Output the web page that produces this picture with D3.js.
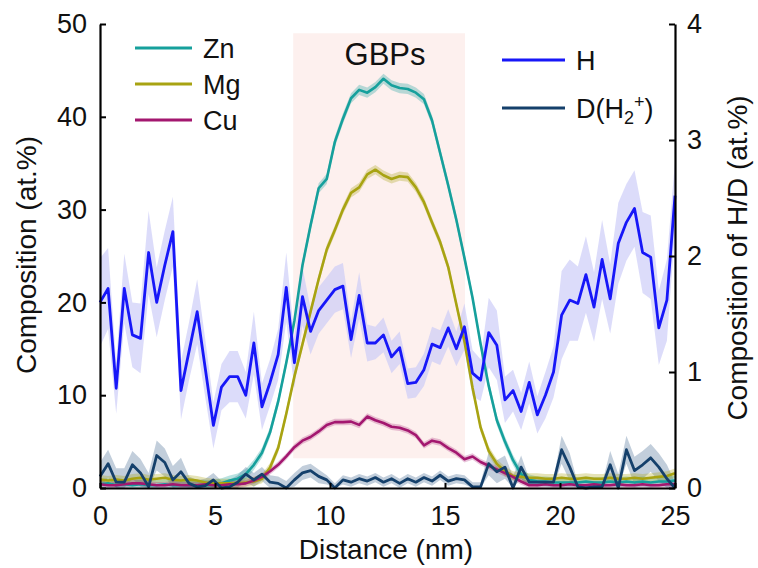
<!DOCTYPE html>
<html>
<head>
<meta charset="utf-8">
<script src="https://cdn.jsdelivr.net/npm/d3@7/dist/d3.min.js"></script>
<style>
  html, body { margin: 0; padding: 0; background: #fff; }
  svg text { font-family: "Liberation Sans", Arial, Helvetica, sans-serif; fill: #111; }
</style>
</head>
<body>
<svg id="chart" width="758" height="568"></svg>
<script>
// ---------- DATA ----------
const distance = [0,0.352,0.704,1.056,1.408,1.761,2.113,2.465,2.817,3.169,3.521,3.873,4.225,4.577,4.930,5.282,5.634,5.986,6.338,6.690,7.042,7.394,7.746,8.099,8.451,8.803,9.155,9.507,9.859,10.211,10.563,10.915,11.268,11.620,11.972,12.324,12.676,13.028,13.380,13.732,14.085,14.437,14.789,15.141,15.493,15.845,16.197,16.549,16.901,17.254,17.606,17.958,18.310,18.662,19.014,19.366,19.718,20.070,20.423,20.775,21.127,21.479,21.831,22.183,22.535,22.887,23.239,23.592,23.944,24.296,24.648,25.000];

// left axis (at.%)
const zn = [0.4,0.5,0.3,0.4,0.3,0.4,0.3,0.3,0.4,0.3,0.3,0.3,0.3,0.3,0.3,0.5,0.8,1.0,1.5,2.5,3.8,6.0,9.3,13.5,18.0,24.0,28.3,32.3,33.3,37.3,39.8,42.0,42.9,42.6,43.2,44.1,43.4,43.1,43.0,42.6,41.9,39.6,36.1,32.6,28.9,24.8,20.5,15.5,11.0,7.3,5.0,3.0,1.5,0.9,0.7,0.7,0.6,0.6,0.6,0.6,0.7,0.6,0.6,0.7,0.6,0.7,0.6,0.7,0.6,0.7,0.7,0.8];
const mg = [0.9,0.8,0.9,0.8,1.0,1.1,0.9,1.0,1.1,0.9,0.8,0.9,0.8,0.6,0.5,0.5,0.5,0.5,0.6,0.7,1.0,2.2,4.3,8.0,12.0,15.5,19.0,22.5,25.7,27.8,30.0,31.8,32.4,33.8,34.3,33.7,33.3,33.6,33.5,32.4,30.8,28.6,26.5,23.8,19.8,15.8,10.8,6.5,4.0,2.6,1.8,1.3,1.2,1.1,1.1,1.0,1.0,1.1,1.0,1.0,1.1,1.0,1.0,1.1,1.0,1.0,1.1,1.0,1.1,1.2,1.3,1.6];
const cu = [0.4,0.3,0.3,0.4,0.5,0.5,0.4,0.3,0.3,0.4,0.3,0.3,0.3,0.4,0.3,0.3,0.4,0.4,0.5,0.8,1.2,1.8,2.5,3.4,4.4,5.1,5.5,6.1,6.8,7.1,7.1,7.15,6.8,7.7,7.3,7.0,6.6,6.5,6.2,5.7,4.6,5.1,4.9,4.3,3.8,3.1,3.4,2.8,2.4,2.0,1.6,1.2,0.7,0.3,0.3,0.4,0.3,0.3,0.4,0.3,0.3,0.4,0.3,0.3,0.4,0.3,0.3,0.4,0.3,0.3,0.4,0.4];
const errZn = 0.55, errMg = 0.5, errCu = 0.35;

// right axis (at.%)
const h = [1.60,1.72,0.86,1.72,1.32,1.29,2.03,1.60,1.92,2.21,0.84,1.18,1.52,1.03,0.54,0.87,0.96,0.96,0.80,1.25,0.70,0.91,1.15,1.73,1.08,1.65,1.35,1.53,1.62,1.71,1.74,1.28,1.66,1.25,1.25,1.32,1.13,1.21,0.90,0.91,1.02,1.24,1.21,1.38,1.20,1.39,0.99,0.93,1.34,1.23,0.76,0.84,0.66,0.91,0.63,0.80,1.00,1.49,1.62,1.59,1.84,1.56,1.97,1.63,2.11,2.29,2.41,2.03,1.99,1.38,1.62,2.52];
const errH = [0.38,0.35,0.22,0.30,0.28,0.30,0.36,0.30,0.30,0.30,0.25,0.25,0.28,0.25,0.20,0.20,0.22,0.22,0.20,0.27,0.20,0.20,0.22,0.30,0.22,0.25,0.20,0.20,0.20,0.20,0.20,0.16,0.20,0.16,0.14,0.15,0.14,0.14,0.13,0.13,0.14,0.15,0.15,0.16,0.15,0.20,0.20,0.18,0.30,0.30,0.20,0.18,0.16,0.18,0.16,0.20,0.22,0.38,0.35,0.32,0.33,0.30,0.34,0.30,0.35,0.33,0.33,0.35,0.36,0.32,0.35,0.30];
const dh2 = [0.10,0.21,0.05,0.05,0.20,0.13,0.01,0.28,0.22,0.07,0.14,0.04,0.01,0.02,0.07,0.00,0.01,0.05,0.12,0.07,0.12,0.05,0.04,0.00,0.07,0.13,0.15,0.10,0.07,0.00,0.07,0.05,0.08,0.06,0.09,0.05,0.08,0.04,0.08,0.05,0.09,0.06,0.11,0.06,0.08,0.07,0.01,0.01,0.21,0.14,0.18,0.00,0.18,0.05,0.05,0.05,0.05,0.33,0.18,0.01,0.00,0.01,0.01,0.20,0.00,0.33,0.15,0.20,0.26,0.18,0.08,0.00];
const errD = [0.12,0.12,0.12,0.12,0.12,0.12,0.12,0.13,0.12,0.12,0.12,0.06,0.06,0.06,0.06,0.06,0.06,0.06,0.06,0.06,0.06,0.06,0.06,0.06,0.06,0.06,0.06,0.06,0.04,0.04,0.04,0.04,0.04,0.04,0.04,0.04,0.04,0.04,0.04,0.04,0.04,0.04,0.04,0.04,0.04,0.04,0.04,0.04,0.10,0.10,0.10,0.10,0.10,0.03,0.03,0.03,0.03,0.12,0.12,0.03,0.03,0.03,0.03,0.12,0.12,0.12,0.12,0.12,0.12,0.12,0.12,0.05];

const xTicks = [0,5,10,15,20,25];
const yLeftTicks = [0,10,20,30,40,50];
const yRightTicks = [0,1,2,3,4];
const gbpRange = [8.4, 15.87];      // nm
const gbpComp = [3.2, 49];          // at.% (left axis)

// ---------- LAYOUT ----------
const svg = d3.select("#chart");
const x = d3.scaleLinear().domain([0,25]).range([100,675]);
const yL = d3.scaleLinear().domain([0,50]).range([488,24]);
const yR = d3.scaleLinear().domain([0,4]).range([488,24]);

// GBP region
svg.append("rect")
  .attr("x", x(gbpRange[0])).attr("width", x(gbpRange[1]) - x(gbpRange[0]))
  .attr("y", yL(gbpComp[1])).attr("height", yL(gbpComp[0]) - yL(gbpComp[1]))
  .attr("fill", "#fdf0ee");

svg.append("text").attr("x", 385).attr("y", 65).attr("text-anchor","middle")
  .style("font-size","31px").text("GBPs");

function band(vals, err, y, color, op) {
  const errAt = i => Array.isArray(err) ? err[i] : err;
  const a = d3.area()
    .x((d,i) => x(distance[i]))
    .y0((d,i) => y(Math.max(0, d - errAt(i))))
    .y1((d,i) => y(d + errAt(i)));
  svg.append("path").datum(vals).attr("d", a).attr("fill", color).attr("fill-opacity", op);
}
function line(vals, y, color, w) {
  const l = d3.line().x((d,i) => x(distance[i])).y(d => y(d));
  svg.append("path").datum(vals).attr("d", l).attr("fill","none")
    .attr("stroke", color).attr("stroke-width", w).attr("stroke-linejoin","round");
}

const cZn = "#16a09c", cMg = "#a8a312", cCu = "#a3176f", cH = "#1717f8", cD = "#15406b";

band(h, errH, yR, "#c9c9f7", 0.65);
band(dh2, errD, yR, "#8fa6bd", 0.55);
band(zn, errZn, yL, cZn, 0.3);
band(mg, errMg, yL, cMg, 0.3);
band(cu, errCu, yL, cCu, 0.25);
line(zn, yL, cZn, 2.6);
line(mg, yL, cMg, 2.6);
line(cu, yL, cCu, 2.6);
line(h, yR, cH, 2.8);
line(dh2, yR, cD, 2.8);

// ---------- AXES ----------
const gx = svg.append("g").attr("transform","translate(0,488)")
  .call(d3.axisBottom(x).tickValues(xTicks).tickSizeInner(-5).tickSizeOuter(0).tickPadding(18));
const gl = svg.append("g").attr("transform","translate(100,0)")
  .call(d3.axisLeft(yL).tickValues(yLeftTicks).tickSizeInner(-6).tickSizeOuter(0).tickPadding(13));
const gr = svg.append("g").attr("transform","translate(675,0)")
  .call(d3.axisRight(yR).tickValues(yRightTicks).tickFormat(d3.format("d"))
    .tickSizeInner(-6).tickSizeOuter(0).tickPadding(12));
[gx, gl, gr].forEach(g => {
  g.select(".domain").attr("stroke","#000").attr("stroke-width",2.2);
  g.selectAll(".tick line").attr("stroke","#000").attr("stroke-width",2);
  g.selectAll(".tick text").style("font-size","27px").attr("fill","#111")
    .style("font-family", '"Liberation Sans", Arial, sans-serif');
});

svg.append("text").attr("x", 386).attr("y", 559).attr("text-anchor","middle")
  .style("font-size","28px").text("Distance (nm)");
svg.append("text").attr("transform","translate(36,255) rotate(-90)").attr("text-anchor","middle")
  .style("font-size","28px").text("Composition (at.%)");
svg.append("text").attr("transform","translate(747,258) rotate(-90)").attr("text-anchor","middle")
  .style("font-size","28px").text("Composition of H/D (at.%)");

// ---------- LEGENDS ----------
const legL = [["Zn", cZn, 48], ["Mg", cMg, 84], ["Cu", cCu, 120]];
legL.forEach(([t, c, yy]) => {
  svg.append("line").attr("x1",135).attr("x2",192).attr("y1",yy).attr("y2",yy)
    .attr("stroke",c).attr("stroke-width",3);
  svg.append("text").attr("x",203).attr("y",yy).attr("dy","0.36em").style("font-size","27px").text(t);
});
svg.append("line").attr("x1",502).attr("x2",565).attr("y1",60).attr("y2",60).attr("stroke",cH).attr("stroke-width",3);
svg.append("text").attr("x",576).attr("y",60).attr("dy","0.36em").style("font-size","27px").text("H");
svg.append("line").attr("x1",502).attr("x2",565).attr("y1",108).attr("y2",108).attr("stroke",cD).attr("stroke-width",3);
const dt = svg.append("text").attr("x",576).attr("y",108).attr("dy","0.36em").style("font-size","27px");
dt.append("tspan").text("D(H");
dt.append("tspan").attr("dy","6").style("font-size","18px").text("2");
dt.append("tspan").attr("dy","-16").style("font-size","18px").text("+");
dt.append("tspan").attr("dy","10").text(")");
</script>
</body>
</html>
